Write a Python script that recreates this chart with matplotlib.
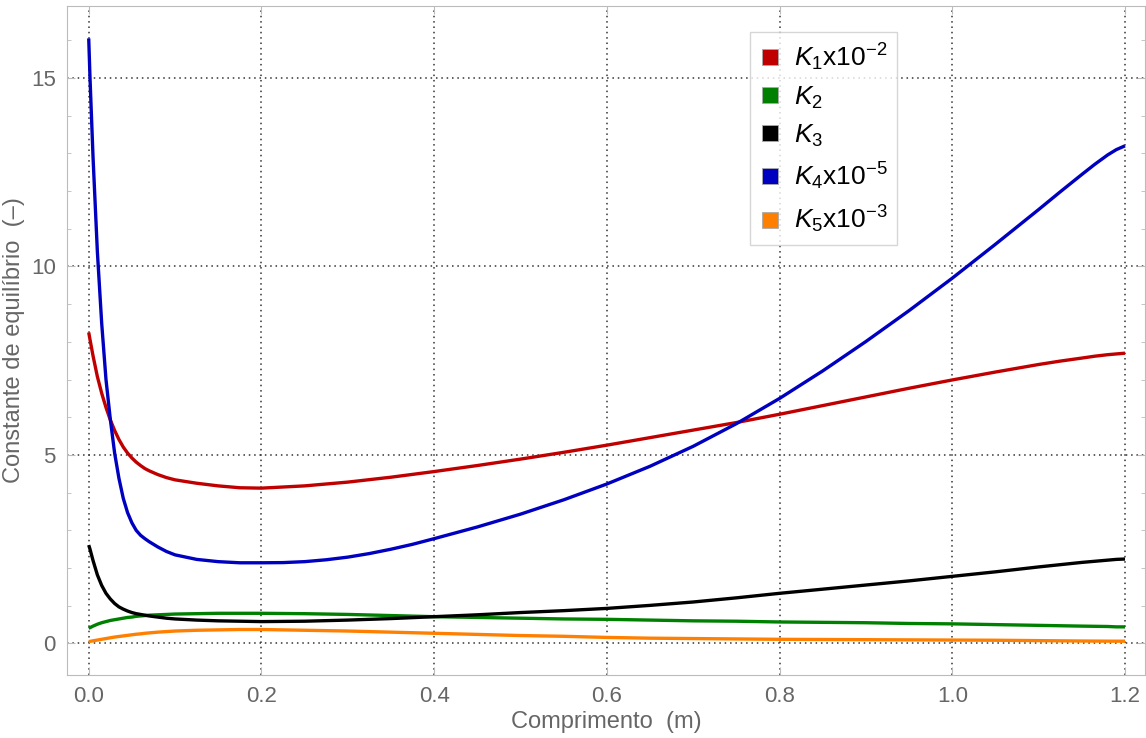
import matplotlib
matplotlib.use("Agg")
import matplotlib.pyplot as plt
from matplotlib.lines import Line2D
from matplotlib.ticker import MultipleLocator

plt.rcParams['font.family'] = ['Liberation Sans', 'DejaVu Sans']
plt.rcParams['mathtext.fontset'] = 'custom'
plt.rcParams['mathtext.rm'] = 'Liberation Sans'
plt.rcParams['mathtext.it'] = 'Liberation Sans:italic'

# reactor length (m)
x = [0, 0.0015, 0.005, 0.01, 0.015, 0.02, 0.025, 0.03, 0.035, 0.04, 0.045, 0.05,
     0.055, 0.06, 0.065, 0.07, 0.08, 0.09, 0.1, 0.125, 0.15, 0.175, 0.2, 0.25,
     0.3, 0.35, 0.4, 0.45, 0.5, 0.55, 0.6, 0.65, 0.7, 0.75, 0.8, 0.85, 0.9, 0.95,
     1.0, 1.05, 1.1, 1.125, 1.15, 1.165, 1.18, 1.19, 1.2]

k1 = [8.25, 8.06, 7.63, 7.08, 6.64, 6.26, 5.93, 5.65, 5.41, 5.21, 5.05, 4.92,
      4.81, 4.72, 4.64, 4.58, 4.48, 4.40, 4.34, 4.25, 4.18, 4.13, 4.12, 4.18,
      4.28, 4.41, 4.56, 4.72, 4.89, 5.07, 5.26, 5.46, 5.66, 5.86, 6.08, 6.31, 6.54, 6.77,
      6.99, 7.2, 7.4, 7.49, 7.57, 7.62, 7.66, 7.68, 7.7]
k2 = [0.40, 0.42, 0.46, 0.51, 0.55, 0.58, 0.61, 0.63, 0.65, 0.67, 0.69, 0.70,
      0.72, 0.73, 0.74, 0.75, 0.76, 0.77, 0.78, 0.79, 0.80, 0.80, 0.80, 0.79,
      0.77, 0.74, 0.71, 0.69, 0.67, 0.65, 0.64, 0.62, 0.60, 0.59, 0.57, 0.56, 0.55, 0.53,
      0.52, 0.50, 0.48, 0.47, 0.46, 0.455, 0.45, 0.44, 0.44]
k3 = [2.61, 2.5, 2.2, 1.82, 1.54, 1.33, 1.18, 1.06, 0.97, 0.91, 0.86, 0.82,
      0.79, 0.77, 0.75, 0.73, 0.70, 0.67, 0.65, 0.62, 0.60, 0.59, 0.58, 0.59,
      0.62, 0.66, 0.71, 0.76, 0.82, 0.87, 0.93, 1.01, 1.10, 1.21, 1.33, 1.44, 1.55, 1.66,
      1.78, 1.90, 2.03, 2.09, 2.15, 2.18, 2.21, 2.23, 2.24]
k5 = [0.05, 0.055, 0.07, 0.09, 0.11, 0.13, 0.15, 0.17, 0.185, 0.2, 0.215, 0.23,
      0.245, 0.255, 0.27, 0.28, 0.3, 0.315, 0.33, 0.35, 0.36, 0.37, 0.37, 0.35,
      0.33, 0.30, 0.27, 0.24, 0.21, 0.19, 0.16, 0.14, 0.13, 0.12, 0.11, 0.105, 0.1, 0.095,
      0.09, 0.085, 0.075, 0.07, 0.065, 0.063, 0.061, 0.06, 0.06]

# K4 changes fastest, so it gets its own, finer grid
x4 = [0, 0.0015, 0.005, 0.01, 0.015, 0.02, 0.025, 0.03, 0.035, 0.04, 0.045, 0.05,
      0.055, 0.06, 0.065, 0.07, 0.08, 0.09, 0.1, 0.125, 0.15, 0.175, 0.2, 0.225,
      0.25, 0.275, 0.3, 0.325, 0.35, 0.375, 0.4, 0.45, 0.5, 0.55, 0.6, 0.65, 0.7,
      0.75, 0.8, 0.85, 0.9, 0.95, 1.0, 1.05, 1.1, 1.125, 1.15, 1.165, 1.18, 1.19, 1.2]
k4 = [16.05, 15.0, 12.9, 10.4, 8.5, 7.0, 5.95, 5.05, 4.38, 3.85, 3.47, 3.2,
      3.0, 2.87, 2.78, 2.7, 2.56, 2.44, 2.35, 2.23, 2.17, 2.14, 2.14, 2.145,
      2.17, 2.22, 2.29, 2.385, 2.50, 2.63, 2.78, 3.09, 3.43, 3.81, 4.23, 4.70, 5.23,
      5.83, 6.50, 7.23, 8.01, 8.83, 9.69, 10.59, 11.51, 11.98, 12.44, 12.71, 12.96, 13.1, 13.2]

series = [(x, k1), (x, k2), (x, k3), (x4, k4), (x, k5)]
labels = [r'$K_1$x10$^{-2}$', r'$K_2$', r'$K_3$', r'$K_4$x10$^{-5}$', r'$K_5$x10$^{-3}$']
colors = ['#c00000', '#008000', '#000000', '#0000c0', '#ff8000']

fig = plt.figure(figsize=(11.46, 7.38), dpi=100)
ax = fig.add_axes([0.0585, 0.0854, 0.9405, 0.9065])

for (xs, ys), c in zip(series, colors):
    ax.plot(xs, ys, color=c, lw=2.4, solid_capstyle='butt', solid_joinstyle='round')

ax.set_xlim(-0.0251, 1.223)
ax.set_ylim(-0.836, 16.91)
ax.set_xticks([0, 0.2, 0.4, 0.6, 0.8, 1.0, 1.2])
ax.set_xticklabels(['0.0', '0.2', '0.4', '0.6', '0.8', '1.0', '1.2'])
ax.set_yticks([0, 5, 10, 15])
ax.yaxis.set_minor_locator(MultipleLocator(1))

ax.grid(True, which='major', color='#333333', linestyle=(0, (1, 2.5)), lw=1.1)
for s in ax.spines.values():
    s.set_color('#bbbbbb')
ax.tick_params(which='both', direction='in', color='#bbbbbb', labelcolor='#666666',
               top=True, right=True, labelsize=16)
ax.tick_params(which='major', length=6, pad=8)
ax.tick_params(which='minor', length=3)

ax.set_xlabel('Comprimento  (m)', fontsize=17, color='#666666', labelpad=3)
ax.set_ylabel('Constante de equilíbrio  (–)', fontsize=17, color='#666666', labelpad=4)

handles = [Line2D([], [], marker='s', linestyle='none', markersize=11,
                  markerfacecolor=c, markeredgecolor='#aaaaaa', markeredgewidth=0.6)
           for c in colors]
leg = ax.legend(handles, labels, loc='upper left', bbox_to_anchor=(0.634, 0.961),
                borderaxespad=0, fontsize=19, frameon=True, fancybox=False,
                handlelength=0.8, handletextpad=0.5, labelspacing=0.45, borderpad=0.35)
leg.get_frame().set_edgecolor('#cccccc')
leg.get_frame().set_linewidth(1.0)

fig.savefig('out.png', dpi=100)
